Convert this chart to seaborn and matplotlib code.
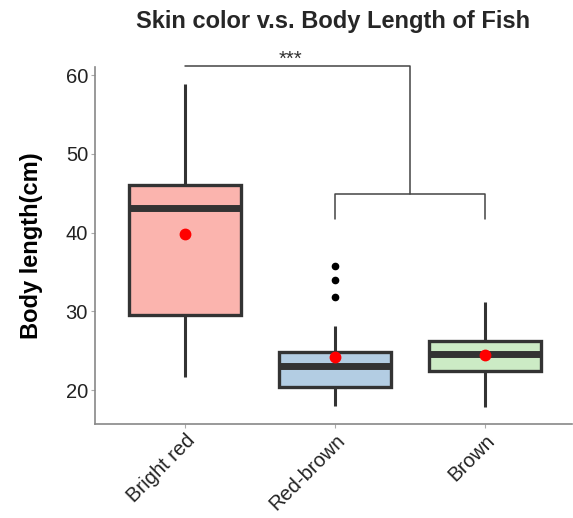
import matplotlib
matplotlib.use("Agg")
import matplotlib.pyplot as plt
import seaborn as sns
import pandas as pd

categories = ["Bright red", "Red-brown", "Brown"]
# sample values (whisker ends, quartiles, median, outliers)
bright_red = [21.7, 29.5, 43.1, 46.1, 58.9]
red_brown = [18.0, 19.0, 19.6, 20.0, 20.4, 21.0, 22.0, 22.6, 23.1, 23.5,
             24.0, 24.4, 24.8, 28.2, 31.8, 34.0, 35.7]
brown = [17.8, 22.45, 24.55, 26.2, 31.2]
fills = ["#FBB4AE", "#B3CDE3", "#CCEBC5"]
title = "Skin color v.s. Body Length of Fish"
ylabel = "Body length(cm)"
yticks = [20, 30, 40, 50, 60]
sig_label = "***"

df = pd.DataFrame({
    "color": [categories[0]] * len(bright_red) + [categories[1]] * len(red_brown) + [categories[2]] * len(brown),
    "length": bright_red + red_brown + brown,
})

sns.set_theme(style="white")
plt.rcParams["font.family"] = ["Liberation Sans", "DejaVu Sans"]

fig = plt.figure(figsize=(5.73, 5.18), dpi=100)
ax = fig.add_axes([0.1658, 0.1815, 0.8322, 0.6895])

edge = "#333333"
sns.boxplot(data=df, x="color", y="length", hue="color", order=categories,
            hue_order=categories, palette=fills, legend=False, width=0.75,
            saturation=1, linewidth=2.4, linecolor=edge, whis=1.5, showmeans=True,
            meanprops=dict(marker="o", markerfacecolor="red", markeredgecolor="red", markersize=7.5),
            medianprops=dict(color=edge, linewidth=5),
            whiskerprops=dict(color=edge, linewidth=2.2),
            capprops=dict(linewidth=0),
            flierprops=dict(marker="o", markerfacecolor="black", markeredgecolor="black", markersize=4.5),
            ax=ax)

ax.set_xlim(-0.6, 2.58)
ax.set_ylim(15.7, 61.05)
ax.set_yticks(yticks)
ax.set_yticklabels([str(t) for t in yticks], fontsize=14.5, color="#222222")
ax.set_xticks(range(len(categories)))
ax.set_xticklabels(categories, rotation=45, ha="right", rotation_mode="anchor",
                   fontsize=14.5, color="#222222")
ax.set_xlabel("")
ax.set_ylabel(ylabel, fontsize=17, fontweight="bold", color="black", labelpad=16)
ax.set_title(title, fontsize=17, fontweight="bold", pad=28)

for s in ["top", "right"]:
    ax.spines[s].set_visible(False)
for s in ["left", "bottom"]:
    ax.spines[s].set_color("#888888")
    ax.spines[s].set_linewidth(1.2)
ax.tick_params(axis="both", which="both", length=3, width=0.8, color="#aaaaaa", pad=2,
               left=True, bottom=True)

# significance brackets
bc = "#444444"
ax.plot([1, 1, 2, 2], [41.7, 44.85, 44.85, 41.7], color=bc, lw=1.1, clip_on=False)
ax.plot([0, 1.5, 1.5], [61.2, 61.2, 44.85], color=bc, lw=1.1, clip_on=False)
ax.text(0.7, 60.75, sig_label, ha="center", va="bottom", fontsize=14.5, color="#333333")

fig.savefig("out.png", dpi=100)
